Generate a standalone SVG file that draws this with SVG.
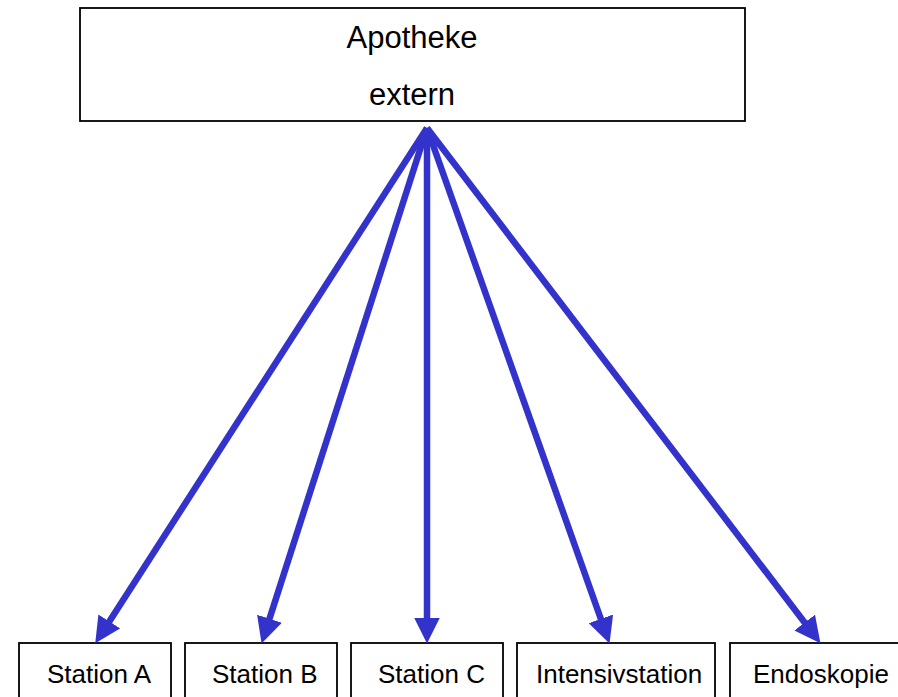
<svg xmlns="http://www.w3.org/2000/svg" width="898" height="697" viewBox="0 0 898 697">
<style>
.box{fill:#fff;stroke:#000;stroke-width:1.8}
.lbl{font-family:"Liberation Sans",Arial,sans-serif;fill:#000}
.top{font-size:31px;text-anchor:middle}
.bot{font-size:26px}
.conn{stroke:#3333cc;stroke-width:6.5;fill:none}
</style>
<defs>
<marker id="ah" markerUnits="userSpaceOnUse" markerWidth="26" markerHeight="26" viewBox="0 0 24 24" refX="6" refY="12" orient="auto">
<path d="M0,0 L24,12 L0,24 Z" fill="#3333cc"/>
</marker>
</defs>
<rect width="898" height="697" fill="#fff"/>
<g id="apotheke">
<rect class="box" x="80" y="8" width="665" height="113"/>
<text class="lbl top" x="412" y="48">Apotheke</text>
<text class="lbl top" x="412" y="105">extern</text>
</g>
<g id="stationA">
<rect class="box" x="19" y="643" width="152" height="70"/>
<text class="lbl bot" x="47" y="683">Station A</text>
</g>
<g id="stationB">
<rect class="box" x="185" y="643" width="152" height="70"/>
<text class="lbl bot" x="212" y="683">Station B</text>
</g>
<g id="stationC">
<rect class="box" x="351" y="643" width="152" height="70"/>
<text class="lbl bot" x="378" y="683">Station C</text>
</g>
<g id="intensivstation">
<rect class="box" x="517" y="643" width="198" height="70"/>
<text class="lbl bot" x="536" y="683">Intensivstation</text>
</g>
<g id="endoskopie">
<rect class="box" x="730" y="643" width="200" height="70"/>
<text class="lbl bot" x="753" y="683">Endoskopie</text>
</g>
<g id="connectors">
<line class="conn" x1="427" y1="128" x2="105.8" y2="626.9" marker-end="url(#ah)"/>
<line class="conn" x1="427" y1="128" x2="267.5" y2="624.9" marker-end="url(#ah)"/>
<line class="conn" x1="427" y1="128" x2="427" y2="624" marker-end="url(#ah)"/>
<line class="conn" x1="427" y1="128" x2="603" y2="625" marker-end="url(#ah)"/>
<line class="conn" x1="427" y1="128" x2="808.6" y2="627.7" marker-end="url(#ah)"/>
</g>
</svg>
